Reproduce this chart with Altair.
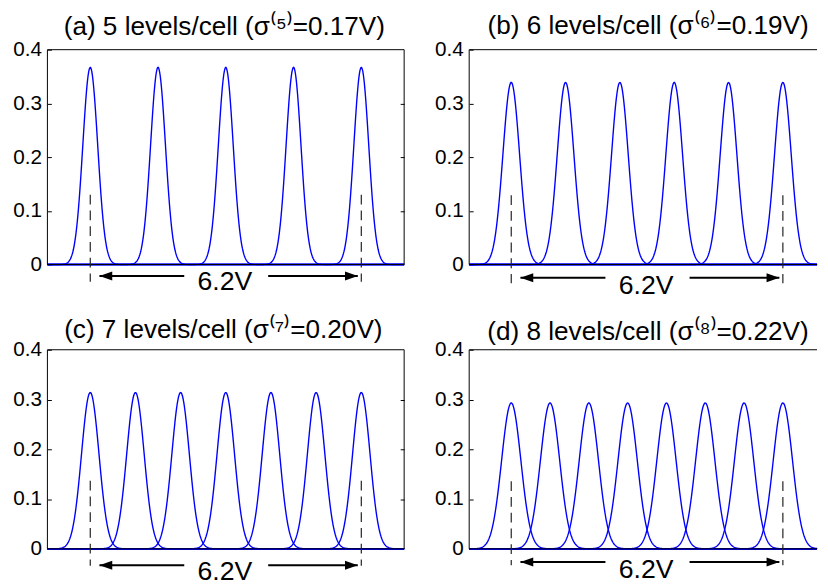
import altair as alt
import numpy as np
import pandas as pd

# ---- values ----
panel_letters = ["a", "b", "c", "d"]
levels_per_cell = [5, 6, 7, 8]
sigma_text = ["0.17", "0.19", "0.20", "0.22"]
sigma_v = [0.17, 0.19, 0.20, 0.22]
peak_height = [0.367, 0.339, 0.314, 0.293]
window_v = 6.2
window_label = "6.2V"
y_tick_values = [0.0, 0.1, 0.2, 0.3, 0.4]
right_tick_values = [0.1, 0.2, 0.3]
x_min = [-0.98, -0.96, -0.98, -0.96]
x_max = [7.18, 6.98, 7.18, 6.98]
dash_top = [0.130, 0.129, 0.137, 0.136]
dash_bottom = [-0.032, -0.035, -0.034, -0.033]
arrow_y = [-0.0215, -0.0245, -0.033, -0.0265]
label_y = [-0.048, -0.055, -0.063, -0.059]
arrow_left_seg = [0.21, 2.15]
arrow_right_seg = [4.07, 6.12]
label_x = 3.08
has_right_border = [True, False, True, False]

# ---- layout / style ----
panel_w = [362, 353, 362, 353]
panel_h = [218, 218, 202, 202]
title_gap = [22.5, 23.5, 20, 18]     # px from plot top to title centre line
title_dx = [-1.5, 5, -2.5, 5]
FONT = "Liberation Sans"
BLUE = "#0000ff"
SUP = str.maketrans("0123456789()", "⁰¹²³⁴⁵⁶⁷⁸⁹⁽⁾")

LEFT_HEAD = "M 0 0 L 2 -0.7 L 2 0.7 Z"
RIGHT_HEAD = "M 0 0 L -2 -0.7 L -2 0.7 Z"


def panel(i):
    n = levels_per_cell[i]
    centers = np.linspace(0, window_v, n)
    xs = np.linspace(x_min[i], x_max[i], 700)
    parts = []
    for k, c in enumerate(centers):
        ys = peak_height[i] * np.exp(-0.5 * ((xs - c) / sigma_v[i]) ** 2)
        parts.append(pd.DataFrame({"x": xs, "y": ys, "peak": k}))
    curve_df = pd.concat(parts, ignore_index=True)

    xsc = alt.Scale(domain=[x_min[i], x_max[i]], nice=False, zero=False)
    ysc = alt.Scale(domain=[0, 0.4], nice=False, zero=False)

    left_axis = alt.Axis(
        orient="left", offset=-4, domain=False, ticks=True, tickSize=4,
        tickColor="black", tickWidth=1, values=y_tick_values,
        labelExpr="datum.value == 0 ? '0' : format(datum.value, '.1f')",
        labelFont=FONT, labelFontSize=21, labelColor="black",
        labelPadding=6, grid=False, title=None,
    )

    curves = alt.Chart(curve_df).mark_line(color=BLUE, strokeWidth=1.4).encode(
        x=alt.X("x:Q", scale=xsc, axis=None),
        y=alt.Y("y:Q", scale=ysc, axis=left_axis),
        detail="peak:N",
    )

    fx1 = [x_min[i], x_min[i], x_min[i]]
    fx2 = [x_min[i], x_max[i], x_max[i]]
    fy1 = [0.0, 0.4, 0.0]
    fy2 = [0.4, 0.4, 0.0]
    if has_right_border[i]:
        fx1.append(x_max[i]); fx2.append(x_max[i]); fy1.append(0.0); fy2.append(0.4)
    frame_df = pd.DataFrame({"x1": fx1, "x2": fx2, "y1": fy1, "y2": fy2})
    if has_right_border[i]:
        frame_yaxis = alt.Axis(
            orient="right", offset=-4, domain=False, ticks=True, tickSize=4,
            tickColor="black", labels=False, values=right_tick_values,
            grid=False, title=None,
        )
    else:
        frame_yaxis = None
    frame = alt.Chart(frame_df).mark_rule(color="black", strokeWidth=1).encode(
        x=alt.X("x1:Q", scale=xsc, axis=None), x2="x2:Q",
        y=alt.Y("y1:Q", scale=ysc, axis=frame_yaxis), y2="y2:Q",
    )

    dash_df = pd.DataFrame({"x": [0.0, window_v],
                            "y1": [dash_top[i]] * 2, "y2": [dash_bottom[i]] * 2})
    dashes = alt.Chart(dash_df).mark_rule(
        color="#222222", strokeWidth=1.2, strokeDash=[10, 6], clip=False
    ).encode(
        x=alt.X("x:Q", scale=xsc, axis=None),
        y=alt.Y("y1:Q", scale=ysc, axis=None), y2="y2:Q",
    )

    arrow_df = pd.DataFrame({"x1": [arrow_left_seg[0], arrow_right_seg[0]],
                             "x2": [arrow_left_seg[1], arrow_right_seg[1]],
                             "y": [arrow_y[i]] * 2})
    arrows = alt.Chart(arrow_df).mark_rule(color="black", strokeWidth=2, clip=False).encode(
        x=alt.X("x1:Q", scale=xsc, axis=None), x2="x2:Q",
        y=alt.Y("y:Q", scale=ysc, axis=None),
    )
    lh = alt.Chart(pd.DataFrame({"x": [arrow_left_seg[0]], "y": [arrow_y[i]]})).mark_point(
        shape=LEFT_HEAD, filled=True, size=169, color="black", opacity=1, strokeWidth=0, clip=False
    ).encode(x=alt.X("x:Q", scale=xsc, axis=None), y=alt.Y("y:Q", scale=ysc, axis=None))
    rh = alt.Chart(pd.DataFrame({"x": [arrow_right_seg[1]], "y": [arrow_y[i]]})).mark_point(
        shape=RIGHT_HEAD, filled=True, size=169, color="black", opacity=1, strokeWidth=0, clip=False
    ).encode(x=alt.X("x:Q", scale=xsc, axis=None), y=alt.Y("y:Q", scale=ysc, axis=None))

    label = alt.Chart(pd.DataFrame({"x": [label_x], "y": [label_y[i]], "t": [window_label]})).mark_text(
        font=FONT, fontSize=27, color="black", align="center", baseline="alphabetic", clip=False
    ).encode(x=alt.X("x:Q", scale=xsc, axis=None), y=alt.Y("y:Q", scale=ysc, axis=None), text="t:N")

    title = (f"({panel_letters[i]}) {levels_per_cell[i]} levels/cell "
             f"(σ{('(' + str(levels_per_cell[i]) + ')').translate(SUP)}={sigma_text[i]}V)")
    title_df = pd.DataFrame({"x": [(x_min[i] + x_max[i]) / 2], "y": [0.4], "t": [title]})
    title_mark = alt.Chart(title_df).mark_text(
        font=FONT, fontSize=26.5, color="black", align="center", baseline="middle",
        dy=-title_gap[i], dx=title_dx[i], clip=False,
    ).encode(x=alt.X("x:Q", scale=xsc, axis=None), y=alt.Y("y:Q", scale=ysc, axis=None), text="t:N")

    return alt.layer(curves, frame, dashes, arrows, lh, rh, label, title_mark).resolve_axis(
        y="independent"
    ).properties(width=panel_w[i], height=panel_h[i])


chart = alt.concat(
    panel(0), panel(1), panel(2), panel(3),
    columns=2, bounds="flush", spacing={"row": 86.5, "column": 66},
).properties(
    padding={"left": 4, "top": 1, "right": 0, "bottom": 0},
    background="white",
).configure_view(stroke=None)

chart.save("out.html", embed_options={"renderer": "svg", "actions": False})
